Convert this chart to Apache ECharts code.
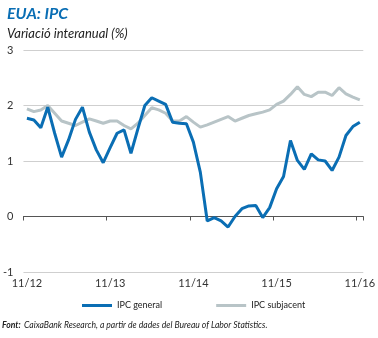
<!DOCTYPE html>
<html>
<head>
<meta charset="utf-8">
<script src="https://cdn.jsdelivr.net/npm/echarts@6/dist/echarts.min.js"></script>
<style>
html,body{margin:0;padding:0;background:#fff;}
#c{width:378px;height:338px;}
</style>
</head>
<body>
<div id="c"></div>
<script>
const months = [
 "11/12","12/12",
 "01/13","02/13","03/13","04/13","05/13","06/13","07/13","08/13","09/13","10/13","11/13","12/13",
 "01/14","02/14","03/14","04/14","05/14","06/14","07/14","08/14","09/14","10/14","11/14","12/14",
 "01/15","02/15","03/15","04/15","05/15","06/15","07/15","08/15","09/15","10/15","11/15","12/15",
 "01/16","02/16","03/16","04/16","05/16","06/16","07/16","08/16","09/16","10/16","11/16"
];
const ipcGeneral = [
 1.77,1.74,1.60,1.97,1.50,1.07,1.38,1.75,1.97,1.52,1.20,0.97,
 1.24,1.50,1.56,1.14,1.58,2.00,2.14,2.08,2.02,1.70,1.68,1.67,
 1.34,0.80,-0.08,-0.02,-0.08,-0.19,0.00,0.14,0.19,0.20,-0.02,0.16,
 0.50,0.72,1.37,1.01,0.85,1.13,1.02,1.00,0.83,1.07,1.46,1.62,1.70
];
const ipcSubjacent = [
 1.94,1.89,1.92,2.00,1.86,1.72,1.68,1.64,1.70,1.76,1.72,1.68,
 1.72,1.72,1.64,1.58,1.68,1.82,1.96,1.92,1.86,1.72,1.72,1.80,
 1.70,1.61,1.65,1.70,1.75,1.80,1.72,1.77,1.82,1.85,1.88,1.92,
 2.02,2.08,2.20,2.34,2.20,2.16,2.24,2.24,2.18,2.32,2.21,2.15,2.10
];
const seriesNames = ["IPC general","IPC subjacent"];
const yTicks = {min:-1, max:3, step:1};

const FONT = "Lato, 'Open Sans', sans-serif";
const chart = echarts.init(document.getElementById('c'), null, {renderer:'canvas'});
chart.setOption({
  animation:false,
  backgroundColor:'#ffffff',
  textStyle:{fontFamily:FONT},
  title:{
    left:2, top:1,
    text:'EUA: IPC',
    textStyle:{fontFamily:FONT,fontSize:16,fontWeight:'bold',fontStyle:'italic',color:'#0a6eb4'},
    subtext:'Variació interanual (%)',
    subtextStyle:{fontFamily:FONT,fontSize:13,fontStyle:'italic',color:'#222'},
    itemGap:5
  },
  legend:{
    top:296, left:77,
    itemWidth:30, itemHeight:3, itemGap:54,
    icon:'rect',
    textStyle:{fontFamily:FONT,fontSize:9,color:'#222'},
    data:seriesNames
  },
  grid:{left:20,right:12,top:50,bottom:66},
  xAxis:[{
    type:'category', data:months, boundaryGap:true,
    axisLine:{onZero:true,lineStyle:{color:'#555',width:1}},
    axisTick:{show:true,interval:11,length:4,lineStyle:{color:'#555'}},
    axisLabel:{show:false},
    splitLine:{show:false}
  },{
    type:'category', data:months, boundaryGap:true, position:'bottom',
    axisLine:{show:false,onZero:false},
    axisTick:{show:false},
    axisLabel:{show:true,interval:11,margin:6,fontSize:11,color:'#333',fontFamily:FONT},
    splitLine:{show:false}
  }],
  yAxis:{
    type:'value', min:yTicks.min, max:yTicks.max, interval:yTicks.step,
    axisLine:{show:false}, axisTick:{show:false},
    axisLabel:{fontSize:11,color:'#333',margin:10,fontFamily:FONT},
    splitLine:{lineStyle:{color:'#cfcfcf',width:1}}
  },
  series:[{
    name:seriesNames[1], type:'line', data:ipcSubjacent, xAxisIndex:0,
    symbol:'none', lineStyle:{color:'#b8c4c7',width:3}, itemStyle:{color:'#b8c4c7'}, z:2
  },{
    name:seriesNames[0], type:'line', data:ipcGeneral, xAxisIndex:0,
    symbol:'none', lineStyle:{color:'#0a6eb4',width:3}, itemStyle:{color:'#0a6eb4'}, z:3
  }],
  graphic:[{
    type:'text', left:2, top:319,
    style:{
      text:'{b|Font:} {i|CaixaBank Research, a partir de dades del Bureau of Labor Statistics.}',
      rich:{
        b:{fontFamily:FONT,fontSize:8.6,fontWeight:'bold',fontStyle:'italic',fill:'#222'},
        i:{fontFamily:FONT,fontSize:8.6,fontStyle:'italic',fill:'#222'}
      }
    }
  }]
});
</script>
</body>
</html>
